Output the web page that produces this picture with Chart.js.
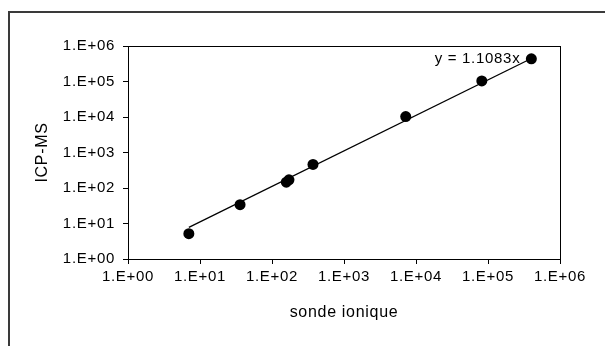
<!DOCTYPE html>
<html>
<head>
<meta charset="utf-8">
<script src="https://cdn.jsdelivr.net/npm/chart.js@4.4.1/dist/chart.umd.min.js"></script>
<style>
    html, body { margin: 0; padding: 0; background: #fff; overflow: hidden; }
    #wrap { position: relative; width: 605px; height: 346px; }
    #frame { position: absolute; left: 8px; top: 11px; width: 700px; height: 400px; border-left: 2px solid #3a3a3a; border-top: 2px solid #3a3a3a; }
    canvas { position: absolute; left: 0; top: 0; }
</style>
</head>
<body>
<div id="wrap">
    <div id="frame"></div>
    <canvas id="chart" width="605" height="346"></canvas>
</div>
<script>
// values (sonde ionique vs ICP-MS)
const sondeValues = [7.0, 36, 158, 172, 371, 7200, 82000, 400000];
const icpValues = [5.15, 34, 146, 170, 460, 10300, 104000, 435000];
const trendSlope = 1.1083;
const tickValues = [1, 10, 100, 1000, 10000, 100000, 1000000];
const tickLabels = ['1.E+00', '1.E+01', '1.E+02', '1.E+03', '1.E+04', '1.E+05', '1.E+06'];

const points = sondeValues.map((x, i) => ({ x, y: icpValues[i] }));
const xMin = Math.min(...sondeValues);
const xMax = Math.max(...sondeValues);
const trend = [{ x: xMin, y: trendSlope * xMin }, { x: xMax, y: trendSlope * xMax }];

const FAMILY = '"Liberation Sans", Arial, sans-serif';
const TICK_FONT = { family: FAMILY, size: 15 };
const TITLE_FONT = { family: FAMILY, size: 16 };

const decadeTicks = (scale) => {
    scale.ticks = tickValues.map(v => ({ value: v }));
};
const tickLabel = (v) => {
    const i = tickValues.indexOf(v);
    return i >= 0 ? tickLabels[i] : '';
};

// wider text spacing like the original
const spacing = {
    id: 'spacing',
    beforeUpdate(chart) { chart.ctx.letterSpacing = '0.7px'; },
    beforeDraw(chart) { chart.ctx.letterSpacing = '0.7px'; }
};

const plotBox = {
    id: 'plotBox',
    afterDatasetsDraw(chart) {
        const { ctx, chartArea: a, scales } = chart;
        ctx.save();
        ctx.strokeStyle = '#000';
        ctx.lineWidth = 1;
        ctx.strokeRect(a.left + 0.5, a.top + 0.5, a.right - a.left, a.bottom - a.top);

        // trendline equation, next to the last point
        const last = points[points.length - 1];
        const px = scales.x.getPixelForValue(last.x);
        const py = scales.y.getPixelForValue(last.y);
        ctx.font = '15px ' + FAMILY;
        ctx.fillStyle = '#000';
        ctx.textAlign = 'right';
        ctx.textBaseline = 'middle';
        ctx.fillText('y = ' + trendSlope + 'x', px - 11, py);
        ctx.restore();
    }
};

new Chart(document.getElementById('chart'), {
    type: 'scatter',
    data: {
        datasets: [
            {
                type: 'line',
                data: trend,
                borderColor: '#000',
                borderWidth: 1.3,
                pointRadius: 0,
                fill: false,
                order: 2
            },
            {
                data: points,
                backgroundColor: '#000',
                borderColor: '#000',
                borderWidth: 0,
                pointRadius: 5.5,
                order: 1
            }
        ]
    },
    options: {
        responsive: false,
        animation: false,
        devicePixelRatio: 1,
        layout: { padding: { left: 0, top: 46, right: 45, bottom: 0 } },
        plugins: { legend: { display: false }, tooltip: { enabled: false } },
        scales: {
            x: {
                type: 'logarithmic',
                min: 1, max: 1000000,
                afterBuildTicks: decadeTicks,
                afterFit: (s) => { s.height = 87; },
                grid: { drawOnChartArea: false, drawTicks: true, tickLength: 5, color: '#000' },
                border: { color: '#000', width: 1 },
                ticks: { callback: tickLabel, color: '#000', font: TICK_FONT, padding: 4, maxRotation: 0, autoSkip: false },
                title: { display: true, text: 'sonde ionique', color: '#000', font: TITLE_FONT, padding: { top: 0, bottom: 24 } }
            },
            y: {
                type: 'logarithmic',
                min: 1, max: 1000000,
                afterBuildTicks: decadeTicks,
                afterFit: (s) => { s.width = 128; },
                grid: { drawOnChartArea: false, drawTicks: true, tickLength: 5, color: '#000' },
                border: { color: '#000', width: 1 },
                ticks: { callback: tickLabel, color: '#000', font: TICK_FONT, padding: 8, autoSkip: false },
                title: { display: true, text: 'ICP-MS', color: '#000', font: TITLE_FONT, padding: { top: 33, bottom: 0 } }
            }
        }
    },
    plugins: [spacing, plotBox]
});
</script>
</body>
</html>
